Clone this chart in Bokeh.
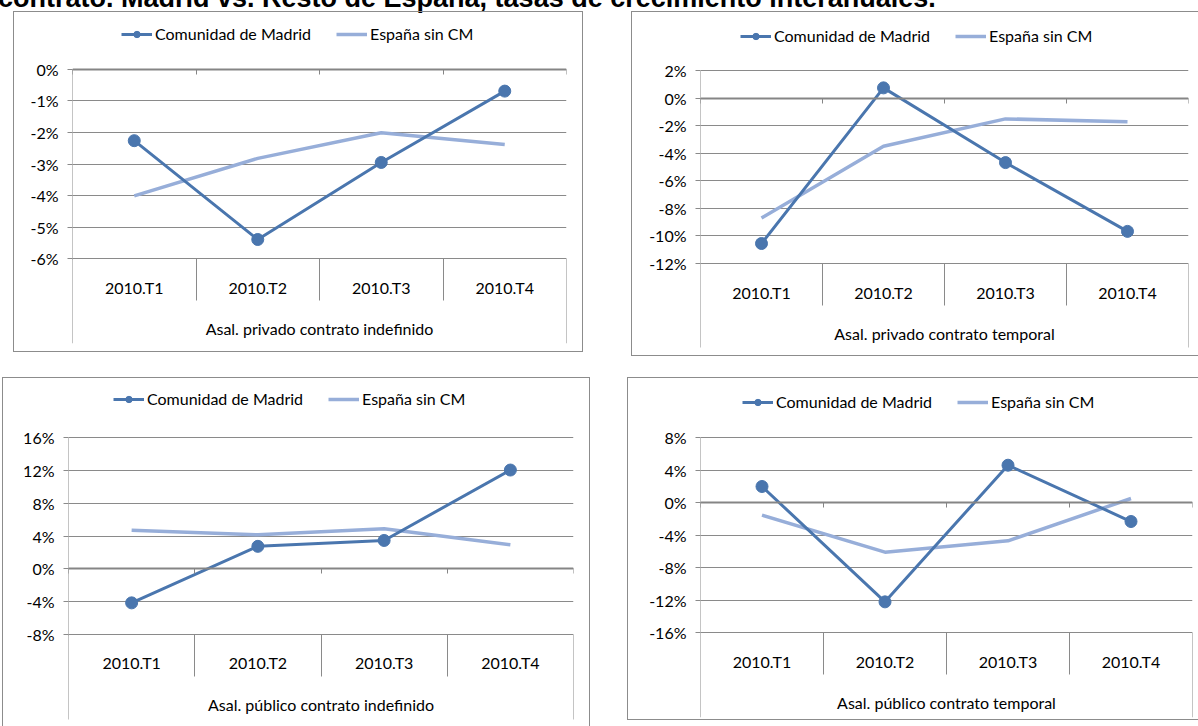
from bokeh.plotting import figure
from bokeh.models import (Range1d, LinearAxis, FixedTicker, Legend, LegendItem,
                          PrintfTickFormatter, Div, ColumnDataSource)
from bokeh.layouts import column, row
from bokeh.embed import file_html
from bokeh.resources import INLINE

# ---------------- data ----------------
categories = ["2010.T1", "2010.T2", "2010.T3", "2010.T4"]
series_names = ["Comunidad de Madrid", "España sin CM"]
title_text = "contrato. Madrid vs. Resto de España, tasas de crecimiento interanuales."

group_tl = "Asal. privado contrato indefinido"
madrid_tl = [-2.26, -5.39, -2.95, -0.69]
espana_tl = [-4.01, -2.82, -2.01, -2.38]
ticks_tl = [-6, -5, -4, -3, -2, -1, 0]

group_tr = "Asal. privado contrato temporal"
madrid_tr = [-10.55, 0.74, -4.68, -9.67]
espana_tr = [-8.70, -3.50, -1.51, -1.71]
ticks_tr = [-12, -10, -8, -6, -4, -2, 0, 2]

group_bl = "Asal. público contrato indefinido"
madrid_bl = [-4.16, 2.75, 3.47, 12.08]
espana_bl = [4.73, 4.16, 4.89, 2.95]
ticks_bl = [-8, -4, 0, 4, 8, 12, 16]

group_br = "Asal. público contrato temporal"
madrid_br = [1.97, -12.23, 4.59, -2.34]
espana_br = [-1.56, -6.11, -4.72, 0.49]
ticks_br = [-16, -12, -8, -4, 0, 4, 8]

# ---------------- style ----------------
MADRID_COLOR = "#4A76AE"
ESPANA_COLOR = "#97AED9"
GRID_COLOR = "#8a8a8a"
BOX_COLOR = "#8c8c8c"
FONT = "Lato"
FONT_SIZE = "16px"

n_cat = len(categories)
cat_pos = [i + 0.5 for i in range(n_cat)]          # category centres on the numeric x scale
cat_bounds = list(range(n_cat + 1))                  # category boundaries


def make_panel(group, madrid, espana, ticks, W, H, frame_left, frame_right,
               top_tick_px, bot_tick_px, frame_bot, leg_x, leg_cy, sides, margin):
    frame_top = 0
    upp = (ticks[-1] - ticks[0]) / (bot_tick_px - top_tick_px)
    y0 = ticks[0] - (frame_bot - bot_tick_px) * upp
    y1 = ticks[-1] + (top_tick_px - frame_top) * upp

    shadows = []
    if "l" in sides:
        shadows.append(f"inset 1px 0 0 {BOX_COLOR}")
    if "t" in sides:
        shadows.append(f"inset 0 1px 0 {BOX_COLOR}")
    if "r" in sides:
        shadows.append(f"inset -1px 0 0 {BOX_COLOR}")
    if "b" in sides:
        shadows.append(f"inset 0 -1px 0 {BOX_COLOR}")

    p = figure(width=W, height=H, x_range=Range1d(0, n_cat), y_range=Range1d(y0, y1),
               output_backend="svg", toolbar_location=None,
               x_axis_location=None, y_axis_location="left",
               min_border_left=frame_left, min_border_right=W - frame_right,
               min_border_top=frame_top, min_border_bottom=H - frame_bot,
               border_fill_color=None, background_fill_color=None, outline_line_color=None,
               margin=margin, align="start", styles={"box-shadow": ", ".join(shadows)})

    # value axis (labels + outside ticks); its line is drawn by a fixed-location axis below
    yax = p.yaxis[0]
    yax.ticker = FixedTicker(ticks=ticks, minor_ticks=[])
    yax.formatter = PrintfTickFormatter(format="%d%%")
    yax.axis_line_color = None
    yax.major_tick_line_color = GRID_COLOR
    yax.major_tick_out = 5
    yax.major_tick_in = 0
    yax.minor_tick_line_color = None
    yax.major_label_standoff = 9
    yax.major_label_text_font = FONT
    yax.major_label_text_font_size = FONT_SIZE
    yax.major_label_text_color = "#000000"
    p.ygrid.grid_line_color = GRID_COLOR
    p.ygrid.grid_line_width = 1
    p.xgrid.visible = False

    # vertical value-axis line, from top tick down to bottom tick
    vline = LinearAxis(fixed_location=ticks[-1],
                       ticker=FixedTicker(ticks=[cat_bounds[0]], minor_ticks=[]),
                       axis_line_color=None, major_tick_line_color=GRID_COLOR,
                       major_tick_out=bot_tick_px - top_tick_px, major_tick_in=0,
                       minor_tick_line_color=None, major_label_text_color=None)
    p.add_layout(vline, "below")

    # horizontal axis crossing at 0
    zero_ax = LinearAxis(fixed_location=0,
                         ticker=FixedTicker(ticks=cat_bounds, minor_ticks=[]),
                         axis_line_color="#858585", axis_line_width=2,
                         major_tick_line_color="#858585", major_tick_out=5, major_tick_in=0,
                         minor_tick_line_color=None, major_label_text_color=None)
    p.add_layout(zero_ax, "below")

    # category separators
    inner = LinearAxis(fixed_location=ticks[0],
                       ticker=FixedTicker(ticks=cat_bounds[1:-1], minor_ticks=[]),
                       axis_line_color=None, major_tick_line_color=GRID_COLOR,
                       major_tick_out=42, major_tick_in=0, minor_tick_line_color=None,
                       major_label_text_color=None)
    outer = LinearAxis(fixed_location=ticks[0],
                       ticker=FixedTicker(ticks=[cat_bounds[0], cat_bounds[-1]], minor_ticks=[]),
                       axis_line_color=None, major_tick_line_color=GRID_COLOR,
                       major_tick_out=85, major_tick_in=0, minor_tick_line_color=None,
                       major_label_text_color=None)
    p.add_layout(inner, "below")
    p.add_layout(outer, "below")

    # category labels + group label
    cat_ax = LinearAxis(fixed_location=ticks[0],
                        ticker=FixedTicker(ticks=cat_pos, minor_ticks=[]),
                        major_label_overrides={pos: lab for pos, lab in zip(cat_pos, categories)},
                        axis_line_color=None,
                        major_tick_line_color=None, major_tick_out=0, major_tick_in=0,
                        minor_tick_line_color=None, major_label_standoff=19,
                        major_label_text_font=FONT, major_label_text_font_size=FONT_SIZE,
                        major_label_text_color="#000000",
                        axis_label=group, axis_label_standoff=19,
                        axis_label_text_font=FONT, axis_label_text_font_size=FONT_SIZE,
                        axis_label_text_font_style="normal", axis_label_text_color="#000000")
    p.add_layout(cat_ax, "below")

    src = ColumnDataSource(dict(x=cat_pos, cat=categories, madrid=madrid, espana=espana))
    r_esp = p.line("x", "espana", source=src, line_color=ESPANA_COLOR, line_width=3.5)
    r_mad = p.line("x", "madrid", source=src, line_color=MADRID_COLOR, line_width=3)
    r_mad_pts = p.scatter("x", "madrid", source=src, marker="circle", size=12,
                          fill_color=MADRID_COLOR, line_color=MADRID_COLOR)

    leg_h = 18
    legend = Legend(items=[LegendItem(label=series_names[0], renderers=[r_mad, r_mad_pts]),
                           LegendItem(label=series_names[1], renderers=[r_esp])],
                    orientation="horizontal",
                    location=(leg_x - frame_left, frame_bot - (leg_cy + leg_h / 2)),
                    padding=0, margin=0, spacing=25, label_standoff=3,
                    glyph_width=31, glyph_height=16, label_height=16,
                    border_line_color=None, background_fill_alpha=0,
                    label_text_font=FONT, label_text_font_size=FONT_SIZE,
                    label_text_color="#000000")
    p.add_layout(legend)
    return p


# top-left (page origin x 13, y 11)
p_tl = make_panel(group_tl, madrid_tl, espana_tl, ticks_tl, W=570, H=341,
                  frame_left=59, frame_right=553, top_tick_px=58, bot_tick_px=248,
                  frame_bot=333, leg_x=108, leg_cy=24, sides="ltrb", margin=(0, 0, 0, 13))
# top-right (page origin x 631, y 11)
p_tr = make_panel(group_tr, madrid_tr, espana_tr, ticks_tr, W=567, H=345,
                  frame_left=69, frame_right=557, top_tick_px=59, bot_tick_px=252,
                  frame_bot=336, leg_x=109, leg_cy=25, sides="ltb", margin=(0, 0, 0, 48))
# bottom-left (page origin x 2, y 377)
p_bl = make_panel(group_bl, madrid_bl, espana_bl, ticks_bl, W=588, H=349,
                  frame_left=66, frame_right=571, top_tick_px=61, bot_tick_px=259,
                  frame_bot=349, leg_x=111, leg_cy=25, sides="ltr", margin=(21, 0, 0, 2))
# bottom-right (page origin x 627, y 377)
p_br = make_panel(group_br, madrid_br, espana_br, ticks_br, W=571, H=343,
                  frame_left=73, frame_right=565, top_tick_px=60, bot_tick_px=255,
                  frame_bot=340, leg_x=115, leg_cy=25, sides="ltb", margin=(21, 0, 0, 37))

title_div = Div(text=('<div style="position:absolute; top:-15px; left:-2px; white-space:nowrap; '
                      'font-family:\'Liberation Sans\', Arial, sans-serif; font-weight:bold; '
                      'font-size:27px; line-height:27px; color:#000;">' + title_text + '</div>'),
                width=1198, height=11, margin=0, styles={"position": "relative"})

layout = column(title_div, row(p_tl, p_tr, spacing=0), row(p_bl, p_br, spacing=0), spacing=0)

open("out.html", "w").write(file_html(layout, INLINE))
